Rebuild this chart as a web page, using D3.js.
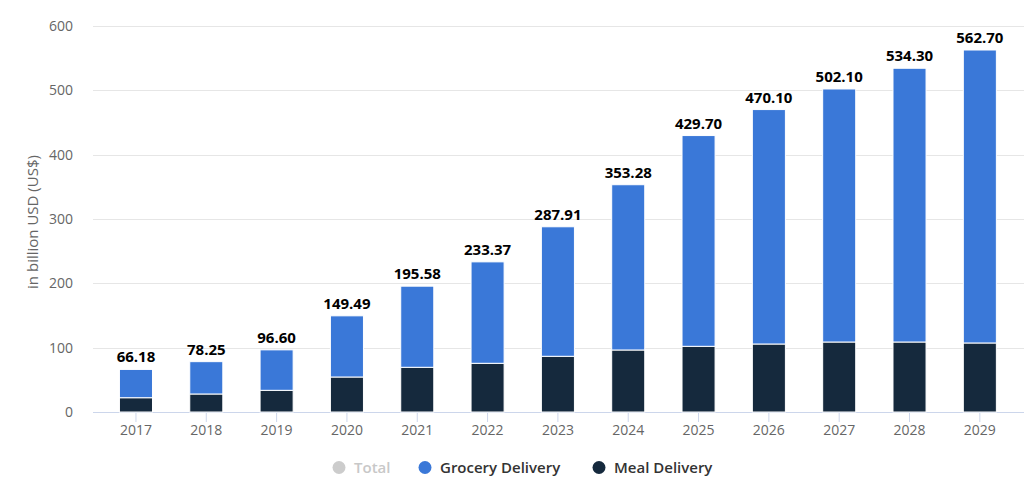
<!DOCTYPE html>
<html><head><meta charset="utf-8">
<script src="https://cdn.jsdelivr.net/npm/d3@7"></script>
<style>body{margin:0;background:#fff;} svg{display:block;font-family:"Open Sans","Noto Sans",sans-serif;}</style>
</head><body><svg id="c" width="1024" height="484"></svg>
<script>
const years = ["2017","2018","2019","2020","2021","2022","2023","2024","2025","2026","2027","2028","2029"];
const totals = [66.18,78.25,96.60,149.49,195.58,233.37,287.91,353.28,429.70,470.10,502.10,534.30,562.70];
const mealDelivery = [22.2,28.0,33.7,54.4,69.5,75.7,86.6,96.4,102.1,105.7,108.8,108.8,107.3];
const groceryDelivery = [43.98,50.25,62.9,95.09,126.08,157.67,201.31,256.88,327.6,364.4,393.3,425.5,455.4];
const yTicks = [0,100,200,300,400,500,600];
const legendItems = [
  {name:"Total", color:"#cccccc", text:"#c8c8c8"},
  {name:"Grocery Delivery", color:"#3a78d8", text:"#333333"},
  {name:"Meal Delivery", color:"#15293d", text:"#333333"}
];

const svg = d3.select("#c");
const x = d3.scaleBand().domain(years).range([100.8, 1015]).paddingInner(0.53).paddingOuter(0.265);
const y = d3.scaleLinear().domain([0,600]).range([412,26]);

// grid
svg.append("g").selectAll("line").data(yTicks).join("line")
  .attr("x1",93).attr("x2",1024).attr("y1",d=>Math.round(y(d))+0.5).attr("y2",d=>Math.round(y(d))+0.5)
  .attr("stroke",d=>d===0?"#ccd6eb":"#e6e6e6").attr("stroke-width",1);

// y labels
svg.append("g").selectAll("text").data(yTicks).join("text")
  .attr("x",73).attr("y",d=>y(d)+5).attr("text-anchor","end")
  .attr("fill","#666").attr("font-size",14).text(d=>d);

svg.append("text").attr("transform","translate(38,222) rotate(-90)").attr("text-anchor","middle")
  .attr("fill","#666").attr("font-size",15).text("in billion USD (US$)");

// x axis ticks
const xa = svg.append("g");
xa.selectAll("line").data(years).join("line")
  .attr("x1",d=>x(d)+x.bandwidth()/2).attr("x2",d=>x(d)+x.bandwidth()/2)
  .attr("y1",412).attr("y2",422).attr("stroke","#ccd6eb");
xa.selectAll("text").data(years).join("text")
  .attr("x",d=>x(d)+x.bandwidth()/2).attr("y",435).attr("text-anchor","middle")
  .attr("fill","#666").attr("font-size",14).text(d=>d);

// bars
const bars = svg.append("g");
bars.selectAll("rect.meal").data(years).join("rect").attr("class","meal")
  .attr("x",d=>x(d)).attr("width",x.bandwidth())
  .attr("y",(d,i)=>y(mealDelivery[i])).attr("height",(d,i)=>y(0)-y(mealDelivery[i]))
  .attr("fill","#15293d").attr("stroke","#fff").attr("stroke-width",1);
bars.selectAll("rect.groc").data(years).join("rect").attr("class","groc")
  .attr("x",d=>x(d)).attr("width",x.bandwidth())
  .attr("y",(d,i)=>y(mealDelivery[i]+groceryDelivery[i])).attr("height",(d,i)=>y(mealDelivery[i])-y(mealDelivery[i]+groceryDelivery[i]))
  .attr("fill","#3a78d8").attr("stroke","#fff").attr("stroke-width",1);

// total labels
svg.append("g").selectAll("text").data(years).join("text")
  .attr("x",d=>x(d)+x.bandwidth()/2).attr("y",(d,i)=>y(totals[i])-7).attr("text-anchor","middle")
  .attr("fill","#000").attr("font-size",15).attr("font-weight","bold").text((d,i)=>totals[i].toFixed(2));

// legend
const legX = [339,425,599];
const lg = svg.append("g");
legendItems.forEach((it,i)=>{
  lg.append("circle").attr("cx",legX[i]).attr("cy",467.5).attr("r",6.5).attr("fill",it.color);
  lg.append("text").attr("x",legX[i]+15).attr("y",473).attr("fill",it.text).attr("font-size",15).attr("font-weight",600).text(it.name);
});
</script></body></html>
